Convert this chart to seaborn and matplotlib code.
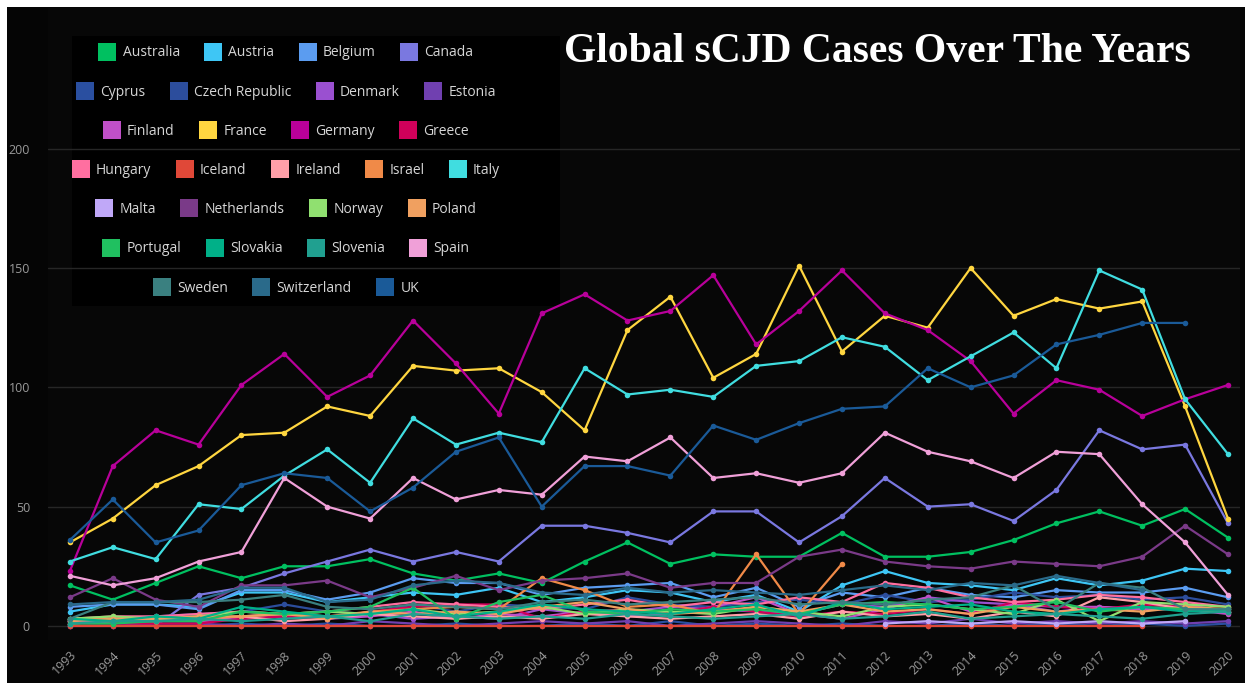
import numpy as np
import pandas as pd
import seaborn as sns
import matplotlib
matplotlib.use("Agg")
from matplotlib import pyplot as plt
from matplotlib.lines import Line2D
from matplotlib.patches import Rectangle

nan = np.nan
years = list(range(1993, 2021))

# cases per year (small ones are rough guesses)
australia = [17, 11, 18, 25, 20, 25, 25, 28, 22, 19, 22, 18, 27, 35, 26, 30, 29, 29, 39, 29, 29, 31, 36, 43, 48, 42, 49, 37]
austria = [6, 9, 9, 8, 14, 14, 10, 12, 14, 13, 16, 10, 12, 15, 14, 10, 13, 6, 17, 23, 18, 17, 15, 20, 17, 19, 24, 23]
belgium = [8, 9, 9, 7, 15, 15, 11, 14, 20, 18, 18, 13, 16, 17, 18, 12, 16, 8, 14, 12, 16, 13, 12, 15, 14, 14, 16, 12]
canada = [nan, nan, 0, 13, 16, 22, 27, 32, 27, 31, 27, 42, 42, 39, 35, 48, 48, 35, 46, 62, 50, 51, 44, 57, 82, 74, 76, 43]
cyprus = [0, 0, 0, 0, 1, 0, 1, 0, 0, 1, 0, 0, 1, 0, 2, 0, 1, 0, 1, 0, 0, 1, 0, 1, 0, 1, 0, 1]
czech = [2, 3, 4, 5, 6, 9, 6, 5, 9, 6, 9, 8, 7, 12, 9, 8, 10, 11, 9, 13, 10, 11, 14, 12, 13, 11, 12, 9]
denmark = [2, 3, 3, 2, 4, 5, 4, 5, 3, 4, 3, 7, 5, 6, 8, 7, 6, 5, 9, 8, 12, 10, 9, 6, 8, 7, 9, 6]
estonia = [0, 0, 1, 1, 0, 1, 0, 2, 1, 0, 1, 2, 1, 2, 0, 1, 2, 1, 0, 2, 1, 3, 1, 2, 1, 2, 1, 2]
finland = [2, 2, 3, 2, 3, 4, 3, 4, 6, 3, 5, 4, 6, 4, 5, 8, 12, 5, 3, 7, 12, 6, 9, 8, 8, 7, 7, 5]
france = [35, 45, 59, 67, 80, 81, 92, 88, 109, 107, 108, 98, 82, 124, 138, 104, 114, 151, 115, 130, 125, 150, 130, 137, 133, 136, 92, 45]
germany = [23, 67, 82, 76, 101, 114, 96, 105, 128, 110, 89, 131, 139, 128, 132, 147, 118, 132, 149, 131, 124, 111, 89, 103, 99, 88, 95, 101]
greece = [1, 1, 1, 1, 3, 4, 3, 6, 8, 9, 9, 3, 6, 7, 5, 8, 6, 4, 6, 5, 7, 5, 10, 8, 7, 9, 8, 6]
hungary = [3, 4, 4, 5, 6, 5, 6, 8, 10, 9, 8, 7, 9, 11, 8, 10, 9, 12, 10, 18, 16, 12, 10, 11, 13, 12, 10, 8]
iceland = [0] * 26 + [nan, nan]
ireland = [1, 2, 2, 3, 4, 2, 3, 5, 4, 3, 4, 3, 5, 4, 3, 4, 5, 3, 6, 4, 5, 3, 6, 4, 12, 10, 7, 6]
israel = [3, 3, 2, 3, 4, 5, 4, 6, 7, 8, 7, 20, 15, 8, 9, 5, 30, 5, 26] + [nan] * 9
italy = [27, 33, 28, 51, 49, 63, 74, 60, 87, 76, 81, 77, 108, 97, 99, 96, 109, 111, 121, 117, 103, 113, 123, 108, 149, 141, 95, 72]
malta = [nan] * 19 + [1, 2, 1, 2, 1, 2, 1, 2, nan]
netherlands = [12, 20, 11, 8, 17, 17, 19, 12, 16, 21, 15, 19, 20, 22, 16, 18, 18, 29, 32, 27, 25, 24, 27, 26, 25, 29, 42, 30]
norway = [3, 4, 3, 4, 6, 5, 6, 5, 7, 5, 6, 8, 5, 7, 6, 5, 8, 6, 4, 8, 9, 7, 5, 11, 2, 10, 9, 8]
poland = [2, 3, 3, 4, 4, 5, 3, 6, 5, 6, 5, 8, 10, 7, 5, 6, 8, 6, 9, 6, 7, 5, 8, 6, 7, 6, 8, 7]
portugal = [1, 1, 2, 2, 6, 5, 6, 8, 16, 3, 10, 13, 6, 5, 7, 6, 7, 5, 9, 10, 9, 7, 8, 10, 6, 8, 7, 6]
slovakia = [3, 2, 4, 3, 8, 6, 4, 5, 7, 4, 6, 9, 7, 6, 5, 7, 9, 4, 10, 7, 8, 9, 6, 5, 7, 8, 6, 7]
slovenia = [1, 2, 2, 3, 2, 3, 4, 2, 5, 4, 3, 4, 3, 5, 4, 3, 4, 5, 3, 4, 6, 3, 4, 5, 4, 3, 5, 6]
spain = [21, 17, 20, 27, 31, 62, 50, 45, 62, 53, 57, 55, 71, 69, 79, 62, 64, 60, 64, 81, 73, 69, 62, 73, 72, 51, 35, 13]
sweden = [3, 10, 10, 10, 11, 13, 8, 7, 9, 8, 7, 10, 11, 9, 10, 11, 12, 9, 10, 9, 11, 12, 17, 7, 18, 16, 7, 7]
switzerland = [9, 10, 10, 11, 16, 16, 10, 11, 17, 19, 18, 14, 13, 16, 14, 15, 14, 13, 15, 17, 15, 18, 17, 21, 18, 15, nan, nan]
uk = [36, 53, 35, 40, 59, 64, 62, 48, 58, 73, 79, 50, 67, 67, 63, 84, 78, 85, 91, 92, 108, 100, 105, 118, 122, 127, 127, nan]

countries = ["Australia", "Austria", "Belgium", "Canada", "Cyprus", "Czech Republic", "Denmark",
             "Estonia", "Finland", "France", "Germany", "Greece", "Hungary", "Iceland", "Ireland",
             "Israel", "Italy", "Malta", "Netherlands", "Norway", "Poland", "Portugal", "Slovakia",
             "Slovenia", "Spain", "Sweden", "Switzerland", "UK"]
series = [australia, austria, belgium, canada, cyprus, czech, denmark, estonia, finland, france,
          germany, greece, hungary, iceland, ireland, israel, italy, malta, netherlands, norway,
          poland, portugal, slovakia, slovenia, spain, sweden, switzerland, uk]
colors = ["#00c060", "#3ec6f5", "#5b9cf0", "#7a78e0", "#2a4fa0", "#2c4d9c", "#9a50d0", "#7040b0",
          "#c050c8", "#ffd640", "#b8009a", "#d0005a", "#ff6fa0", "#e04838", "#ff9fa8", "#f08a48",
          "#40dde0", "#c0a8f8", "#7a3a88", "#90e070", "#f0a060", "#20c060", "#00b088", "#20a090",
          "#f0a0d8", "#3a8080", "#2a6a8a", "#1a5a98"]
legend_rows = [4, 4, 4, 5, 4, 4, 3]

df = pd.DataFrame({"Year": years * len(countries),
                   "Country": [c for c in countries for _ in years],
                   "Cases": [v for s in series for v in s]})
pal = dict(zip(countries, colors))

sns.set_theme(style="dark")
plt.rcParams["font.family"] = ["Open Sans", "DejaVu Sans"]

fig = plt.figure(figsize=(12.48, 6.83), dpi=100, facecolor="white")
fig.patches.append(Rectangle((7 / 1248, 0), 1238 / 1248, 676 / 683, transform=fig.transFigure,
                             facecolor="#050505", edgecolor="none", zorder=-5))
ax = fig.add_axes([48 / 1248, 1 - 640 / 683, 1192 / 1248, 632 / 683])
ax.set_facecolor("#070707")

sns.lineplot(data=df, x="Year", y="Cases", hue="Country", hue_order=countries, palette=pal,
             marker="o", markersize=4, markeredgewidth=0, linewidth=1.6, legend=False, ax=ax)

ax.set_xlim(1992.49, 2020.28)
ax.set_ylim(-5.9, 259)
ax.set_yticks([0, 50, 100, 150, 200])
ax.set_xticks(years)
ax.set_xticklabels([str(y) for y in years], rotation=45, ha="right", rotation_mode="anchor")
ax.tick_params(axis="both", colors="#9a9a9a", labelsize=9, length=0)
ax.tick_params(axis="y", pad=13)
ax.tick_params(axis="x", pad=6)
ax.grid(axis="y", color="#262626", linewidth=1)
ax.grid(axis="x", visible=False)
ax.set_xlabel("")
ax.set_ylabel("")
for sp in ax.spines.values():
    sp.set_visible(False)

# legend box, rows centred like the original
ax.add_patch(Rectangle((72 / 1192 - 48 / 1192, (640 - 306) / 632), 488 / 1192, 270 / 632,
                       transform=ax.transAxes, facecolor="#000000", edgecolor="none", zorder=0.5))
start = 0
for i, n in enumerate(legend_rows):
    names = countries[start:start + n]
    handles = [Line2D([], [], marker="s", linestyle="none", markersize=13, markeredgewidth=0,
                      color=pal[c]) for c in names]
    fig.legend(handles, names, loc="center", ncol=n, frameon=False,
               bbox_to_anchor=(287 / 1248, 1 - (53 + 39.2 * i) / 683),
               fontsize=10, labelcolor="#d6d6d6", handlelength=1.0, handletextpad=0.6,
               columnspacing=1.9, borderpad=0)
    start += n

fig.text(877 / 1248, 1 - 52 / 683, "Global sCJD Cases Over The Years", ha="center", va="center",
         color="white", fontsize=30, fontweight="bold", family=["Liberation Serif", "DejaVu Serif"])

plt.savefig("out.png", dpi=100, facecolor=fig.get_facecolor())
